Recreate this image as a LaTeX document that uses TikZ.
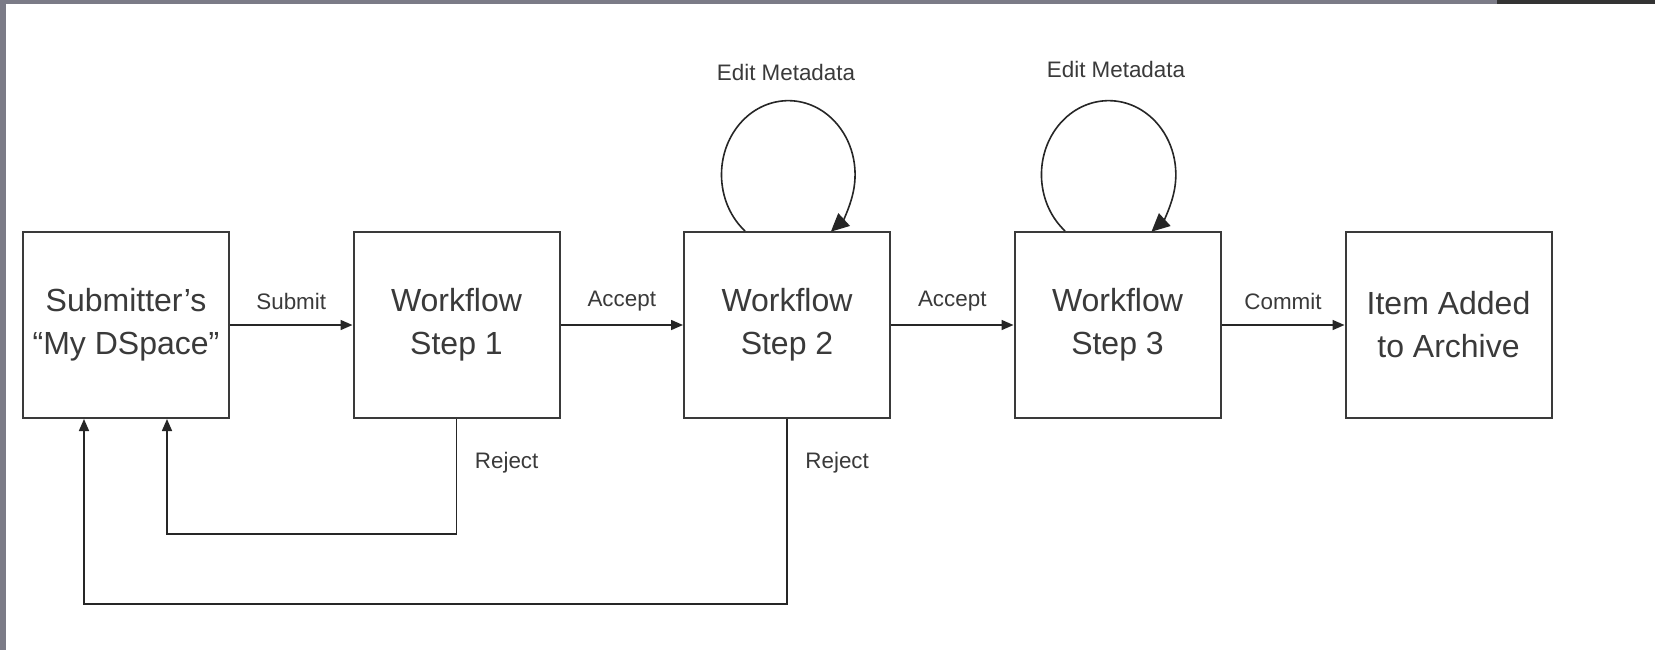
\documentclass[tikz,border=0pt]{standalone}
\usepackage{fontspec}
\setmainfont{Liberation Sans}
\usetikzlibrary{arrows.meta}
\definecolor{barcol}{HTML}{7B7B87}
\definecolor{darkbar}{HTML}{333333}
\definecolor{ink}{HTML}{3A3A3A}
\begin{document}
\begin{tikzpicture}[x=0.5pt,y=0.5pt,
  stepbox/.style={draw=ink, line width=1pt, minimum width=103pt, minimum height=93pt,
    inner sep=0pt, align=center, text=ink, font=\fontsize{16}{21.5}\selectfont},
  lbl/.style={text=ink, font=\fontsize{11.2}{13}\selectfont, inner sep=0pt},
  arr/.style={draw=black!85, line width=0.8pt, -{Triangle[length=6pt,width=5pt]}},
  looparr/.style={draw=black!85, line width=0.8pt, -{Triangle[length=9pt,width=8.5pt]}}]
\useasboundingbox (0,0) rectangle (1655,-650);
\fill[white] (0,0) rectangle (1655,-650);
\fill[barcol] (0,0) rectangle (1655,-4);
\fill[barcol] (0,0) rectangle (6,-650);
\fill[darkbar] (1497,0) rectangle (1655,-4);

\node[stepbox] (s1) at (126,-325) {Submitter's\\``My DSpace''};
\node[stepbox] (s2) at (456.5,-325) {Workflow\\Step 1};
\node[stepbox] (s3) at (787,-325) {Workflow\\Step 2};
\node[stepbox] (s4) at (1117.5,-325) {Workflow\\Step 3};
\node[stepbox] (s5) at (1448.5,-325) {Item Added\\to Archive};

\draw[arr] (s1) -- node[lbl, yshift=12pt] (l1) {Submit} (s2);
\draw[arr] (s2) -- node[lbl, yshift=12pt] (l2) {Accept} (s3);
\draw[arr] (s3) -- node[lbl, yshift=12pt] (l3) {Accept} (s4);
\draw[arr] (s4) -- node[lbl, yshift=12pt] (l4) {Commit} (s5);

\draw[arr] (s2.south) -- ++(0,-115) -| ([xshift=20.5pt]s1.south);
\draw[arr] (s3.south) -- ++(0,-185) -| ([xshift=-21pt]s1.south);
\node[lbl, anchor=west] (r1) at ([xshift=9pt,yshift=-22pt]s2.south) {Reject};
\node[lbl, anchor=west] (r2) at ([xshift=9pt,yshift=-22pt]s3.south) {Reject};

\draw[looparr] ([xshift=-21pt]s3.north) arc[start angle=229.6, end angle=-50.4, x radius=33.4pt, y radius=37pt];
\draw[looparr] ([xshift=-26.2pt]s4.north) arc[start angle=229.6, end angle=-50.4, x radius=33.6pt, y radius=37pt];
\node[lbl] (e1) at (786,-72) {Edit Metadata};
\node[lbl] (e2) at (1116,-69) {Edit Metadata};
\end{tikzpicture}
\end{document}
